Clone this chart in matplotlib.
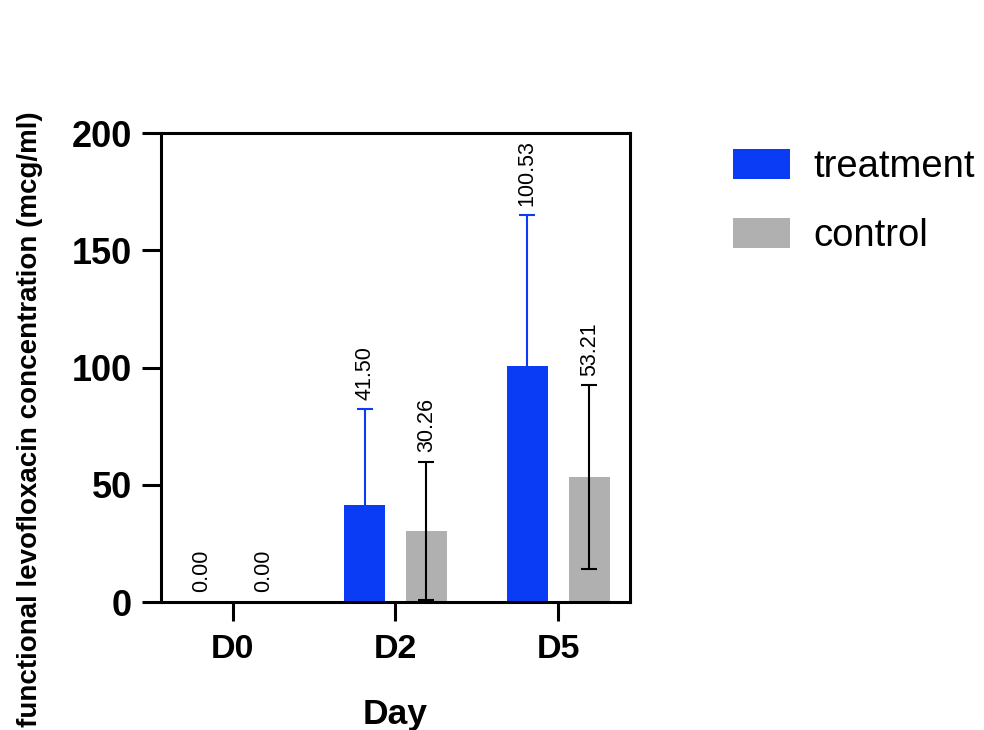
import numpy as np
import matplotlib.pyplot as plt

plt.rcParams['font.family'] = ['Liberation Sans', 'DejaVu Sans']

days = ['D0', 'D2', 'D5']
treatment = [0.00, 41.50, 100.53]
treatment_sd = [0.0, 40.7, 64.4]
control = [0.00, 30.26, 53.21]
control_sd = [0.0, 29.6, 39.2]

blue = '#0a3cf5'
gray = '#b0b0b0'

fig = plt.figure(figsize=(9.84, 7.3), dpi=100)
ax = fig.add_axes([0.1636, 0.1753, 0.4766, 0.6425])

x = np.arange(len(days))
w = 0.25
off = 0.19

ax.bar(x - off, treatment, w, color=blue, label='treatment', zorder=2)
ax.bar(x + off, control, w, color=gray, label='control', zorder=2)
ax.errorbar(x[1:] - off, treatment[1:], yerr=treatment_sd[1:], fmt='none',
            ecolor=blue, elinewidth=1.5, capsize=6, capthick=1.5, zorder=3)
ax.errorbar(x[1:] + off, control[1:], yerr=control_sd[1:], fmt='none',
            ecolor='black', elinewidth=1.5, capsize=6, capthick=1.5, zorder=3)

# value labels above the error bars
for xs, vals, sds in [(x - off, treatment, treatment_sd), (x + off, control, control_sd)]:
    for xi, v, s in zip(xs, vals, sds):
        ax.annotate(f'{v:.2f}', (xi, v + s), xytext=(0, 7), textcoords='offset points',
                    rotation=90, ha='center', va='bottom', fontsize=15.5)

ax.set_xlim(-0.44, 2.44)
ax.set_ylim(0, 200)
ax.set_yticks([0, 50, 100, 150, 200])
ax.set_xticks(x)
ax.set_xticklabels(days)

for sp in ax.spines.values():
    sp.set_linewidth(2.2)
ax.tick_params(axis='both', width=2.2, length=14, pad=7)
ax.tick_params(axis='y', labelsize=26)
ax.tick_params(axis='x', labelsize=24.5, pad=9)
for lab in ax.get_xticklabels() + ax.get_yticklabels():
    lab.set_fontweight('bold')

ax.set_xlabel('Day', fontsize=25.5, fontweight='bold', labelpad=24)
ax.set_ylabel('functional levofloxacin concentration (mcg/ml)', fontsize=20,
              fontweight='bold')
ax.yaxis.set_label_coords(-0.252, 0.39)

ax.legend(loc='upper left', bbox_to_anchor=(1.146, 1.04), frameon=False,
          fontsize=27.5, handlelength=1.49, handleheight=0.86, labelspacing=0.85,
          handletextpad=0.63)

fig.savefig('out.png', dpi=100)
